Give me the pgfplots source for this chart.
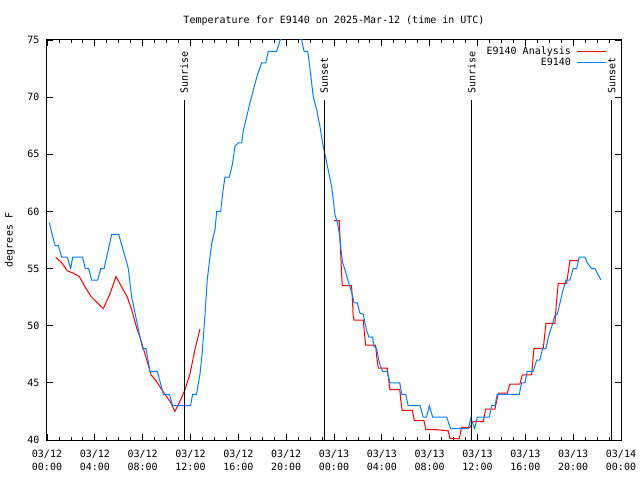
\documentclass[border=0pt]{standalone}
\usepackage{pgfplots}
\pgfplotsset{compat=1.18}
\usepackage{fontspec}
\setmainfont{DejaVu Sans Mono}
\definecolor{obsblue}{RGB}{0,128,255}
\begin{document}
\begin{tikzpicture}[x=1pt,y=1pt,font=\fontsize{10}{12}\selectfont]
\path[use as bounding box] (0,0) rectangle (640,480);
\begin{axis}[
  at={(47pt,40pt)}, anchor=south west,
  scale only axis, width=574pt, height=400pt,
  xmin=0, xmax=48, ymin=40, ymax=75,
  xtick={0,4,...,48},
  xticklabels={{03/12\\00:00},{03/12\\04:00},{03/12\\08:00},{03/12\\12:00},{03/12\\16:00},{03/12\\20:00},{03/13\\00:00},{03/13\\04:00},{03/13\\08:00},{03/13\\12:00},{03/13\\16:00},{03/13\\20:00},{03/14\\00:00}},
  minor x tick num=3,
  ytick={40,45,...,75},
  tick align=inside,
  major tick length=6pt, minor tick length=3pt,
  tick style={black, line width=0.8pt},
  axis line style={line width=1pt},
  /pgf/number format/assume math mode=true,
  xticklabel style={align=center, font=\fontsize{10}{13}\selectfont, yshift=-7pt},
  yticklabel style={xshift=-4pt},
  title={Temperature for E9140 on 2025-Mar-12 (time in UTC)},
  title style={yshift=5pt},
  ylabel={degrees F},
  ylabel style={at={(axis description cs:-0.0645,0.5)}, anchor=center},
  unbounded coords=jump,
  legend style={draw=none, fill=none, at={(axis description cs:0.981,0.99)}, anchor=north east,
    legend cell align=right, row sep=0pt, column sep=5pt, nodes={inner sep=1pt}},
  legend plot pos=right,
  legend image code/.code={\draw[#1] (0pt,0pt) -- (29pt,0pt);},
]
\addplot[red, line width=1pt] coordinates {
(0.72,56.0) (1.23,55.5) (1.7,54.8) (2.2,54.6) (2.7,54.3) (3.18,53.4) (3.73,52.5) (4.71,51.5)
(5.27,52.8) (5.77,54.3) (6.24,53.4) (6.72,52.5) (7.08,51.4) (7.5,49.8) (7.92,48.5) (8.34,47.0)
(8.7,45.7) (9.17,45.1) (9.72,44.2) (10.28,43.4) (10.7,42.5) (11.12,43.4) (11.54,44.4) (11.96,45.8)
(12.37,47.9) (12.79,49.7)
(18,nan)
(24.02,59.2) (24.44,59.2) (24.5,57.8) (24.56,56.3) (24.64,54.4) (24.69,53.5) (25.47,53.5) (25.55,52.1)
(25.6,50.9) (25.67,50.5) (26.45,50.5) (26.53,49.5) (26.65,48.3) (27.48,48.3) (27.57,47.3) (27.7,46.3)
(28.45,46.3) (28.59,45.1) (28.68,44.4) (29.5,44.4) (29.58,43.5) (29.7,42.6) (30.55,42.6) (30.72,41.7)
(31.52,41.7) (31.68,40.9) (32.6,40.9) (33.55,40.8) (33.69,40.15) (34.47,40.1) (34.67,41.1) (35.37,41.1)
(35.6,41.6) (36.48,41.6) (36.68,42.7) (37.46,42.7) (37.74,44.1) (38.49,44.1) (38.71,44.9) (39.55,44.9)
(39.74,45.7) (40.52,45.7) (40.72,48.0) (41.5,48.0) (41.72,50.2) (42.47,50.2) (42.6,52.0) (42.75,53.7)
(43.45,53.7) (43.59,54.7) (43.73,55.7) (44.42,55.7)
};
\addlegendentry{E9140 Analysis}
\addplot[obsblue, line width=1pt] coordinates {
(0.2,59.0) (0.67,57) (0.95,57) (1.23,56) (1.7,56) (1.98,55) (2.15,56) (2.98,56) (3.2,55) (3.48,55)
(3.73,54) (4.24,54) (4.49,55) (4.77,55) (5.41,58) (6.0,58) (6.8,55) (7.08,52.5) (7.78,49) (8.0,48)
(8.28,48) (8.61,46) (9.23,46) (9.73,44) (10.23,44) (10.51,43) (12.0,43) (12.18,44) (12.5,44) (12.8,45.8)
(13.0,47.9) (13.2,50.8) (13.4,54.0) (13.57,55.5) (13.77,57.2) (14.05,58.4) (14.19,60.0) (14.52,60)
(14.69,61.6) (14.88,63.0) (15.25,63) (15.52,64.2) (15.72,65.7) (16.0,66) (16.28,66) (16.42,67.1)
(16.7,68.3) (16.97,69.5) (17.25,70.6) (17.58,71.9) (17.95,73) (18.3,73) (18.5,74) (19.2,74) (19.5,75)
(20.3,76) (21.3,75) (21.5,74) (21.8,74) (21.93,73) (22.27,70.0) (22.55,68.9) (22.83,67.4) (23.1,65.7)
(23.4,64.2) (23.8,62.2) (23.94,61.0) (24.08,59.7) (24.27,59.1) (24.44,58.1) (24.56,56.9) (24.72,55.5)
(24.92,54.9) (25.1,54.2) (25.33,53.4) (25.53,52.7) (25.67,52.0) (25.95,52) (26.17,51.1) (26.45,51)
(26.59,50.2) (26.73,49.6) (26.92,49) (27.23,49) (27.34,48.2) (27.57,48) (27.7,47.2) (27.84,46.6)
(28.07,46) (28.45,46) (28.68,45) (29.5,45) (29.66,44) (30.0,44) (30.2,43) (31.19,43) (31.46,42)
(31.74,42) (31.97,43) (32.25,42) (33.42,42) (33.75,41) (35.23,41) (35.43,41.9) (35.76,41) (35.98,42)
(36.98,42) (37.18,43) (37.46,43) (37.65,44) (39.49,44) (39.69,45) (39.97,45) (40.16,46) (40.66,46)
(40.94,47) (41.2,47) (41.45,48) (41.72,48) (41.92,49) (42.2,49.9) (42.47,50.9) (42.67,51) (42.9,52)
(43.12,53) (43.4,54) (43.73,54) (44.0,55) (44.29,55) (44.5,56) (44.98,56) (45.18,55.5) (45.54,55)
(45.82,55) (46.32,54)
};
\addlegendentry{E9140}
\draw[black, line width=1pt] (axis cs:11.46,40) -- (axis cs:11.46,69.75);
\draw[black, line width=1pt] (axis cs:23.19,40) -- (axis cs:23.19,69.75);
\draw[black, line width=1pt] (axis cs:35.52,40) -- (axis cs:35.52,69.75);
\draw[black, line width=1pt] (axis cs:47.22,40) -- (axis cs:47.22,69.75);
\node[rotate=90, anchor=west, inner sep=0pt] at (axis cs:11.46,70.3) {Sunrise};
\node[rotate=90, anchor=west, inner sep=0pt] at (axis cs:23.19,70.3) {Sunset};
\node[rotate=90, anchor=west, inner sep=0pt] at (axis cs:35.52,70.3) {Sunrise};
\node[rotate=90, anchor=west, inner sep=0pt] at (axis cs:47.22,70.3) {Sunset};
\end{axis}
\end{tikzpicture}
\end{document}
